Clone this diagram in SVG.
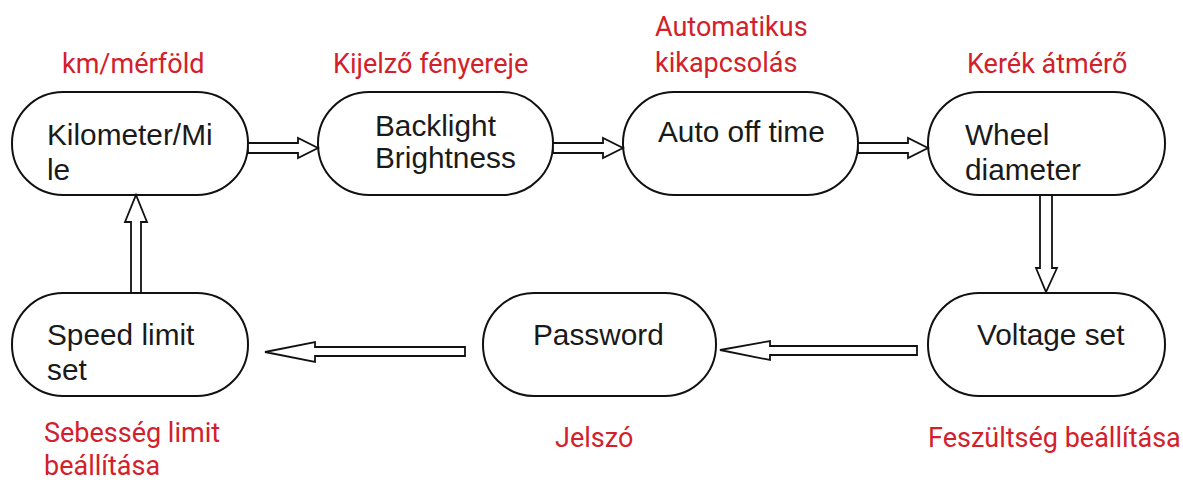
<svg xmlns="http://www.w3.org/2000/svg" width="1183" height="480" viewBox="0 0 1183 480">
<style>
.node rect{fill:#fff;stroke:#111;stroke-width:2}
.node text{font-family:"Liberation Sans",Arial,sans-serif;font-size:29.8px;fill:#1a1a1a}
.lbl{font-family:Roboto,"Liberation Sans",sans-serif;font-size:27px;fill:#d3202a}
.conn path{fill:#fff;stroke:#111;stroke-width:1.8;stroke-linejoin:miter}
</style>
<rect width="1183" height="480" fill="#fff"/>
<g id="n-km" class="node">
<rect x="12" y="92" width="236" height="103" rx="51" ry="51"/>
<text x="47" y="145">Kilometer/Mi</text>
<text x="47" y="180">le</text>
</g>
<g id="n-backlight" class="node">
<rect x="318" y="92" width="235" height="103" rx="51" ry="51"/>
<text x="375" y="136">Backlight</text>
<text x="375" y="168">Brightness</text>
</g>
<g id="n-auto" class="node">
<rect x="623" y="92" width="235" height="103" rx="51" ry="51"/>
<text x="658" y="142">Auto off time</text>
</g>
<g id="n-wheel" class="node">
<rect x="928" y="92" width="237" height="103" rx="51" ry="51"/>
<text x="965" y="145">Wheel</text>
<text x="965" y="180">diameter</text>
</g>
<g id="n-voltage" class="node">
<rect x="928" y="293" width="237" height="103" rx="51" ry="51"/>
<text x="977" y="345">Voltage set</text>
</g>
<g id="n-password" class="node">
<rect x="483" y="293" width="233" height="103" rx="51" ry="51"/>
<text x="533" y="345">Password</text>
</g>
<g id="n-speed" class="node">
<rect x="12" y="293" width="236" height="103" rx="51" ry="51"/>
<text x="47" y="345">Speed limit</text>
<text x="47" y="380">set</text>
</g>
<g id="connectors" class="conn">
<path d="M248,143 H298 V138 L318,148 L298,158 V153 H248 Z"/>
<path d="M553,143 H603 V138 L623,148 L603,158 V153 H553 Z"/>
<path d="M858,143 H908 V138 L928,148 L908,158 V153 H858 Z"/>
<path d="M1040,195 V268 H1036 L1046,292 L1057,268 H1052 V195 Z"/>
<path d="M917,346 H770 V341 L720,350 L770,360 V355 H917 Z"/>
<path d="M465,347 H315 V342 L265,352 L315,362 V356 H465 Z"/>
<path d="M131,293 V222 H125 L136,195 L147,222 H141 V293 Z"/>
</g>
<g id="labels">
<text class="lbl" x="62" y="73">km/mérföld</text>
<text class="lbl" x="333" y="73">Kijelző fényereje</text>
<text class="lbl" x="655" y="36">Automatikus</text>
<text class="lbl" x="655" y="72">kikapcsolás</text>
<text class="lbl" x="967" y="73">Kerék átmérő</text>
<text class="lbl" x="44" y="442">Sebesség limit</text>
<text class="lbl" x="44" y="475">beállítása</text>
<text class="lbl" x="555" y="447">Jelszó</text>
<text class="lbl" x="928" y="447">Feszültség beállítása</text>
</g>
</svg>
